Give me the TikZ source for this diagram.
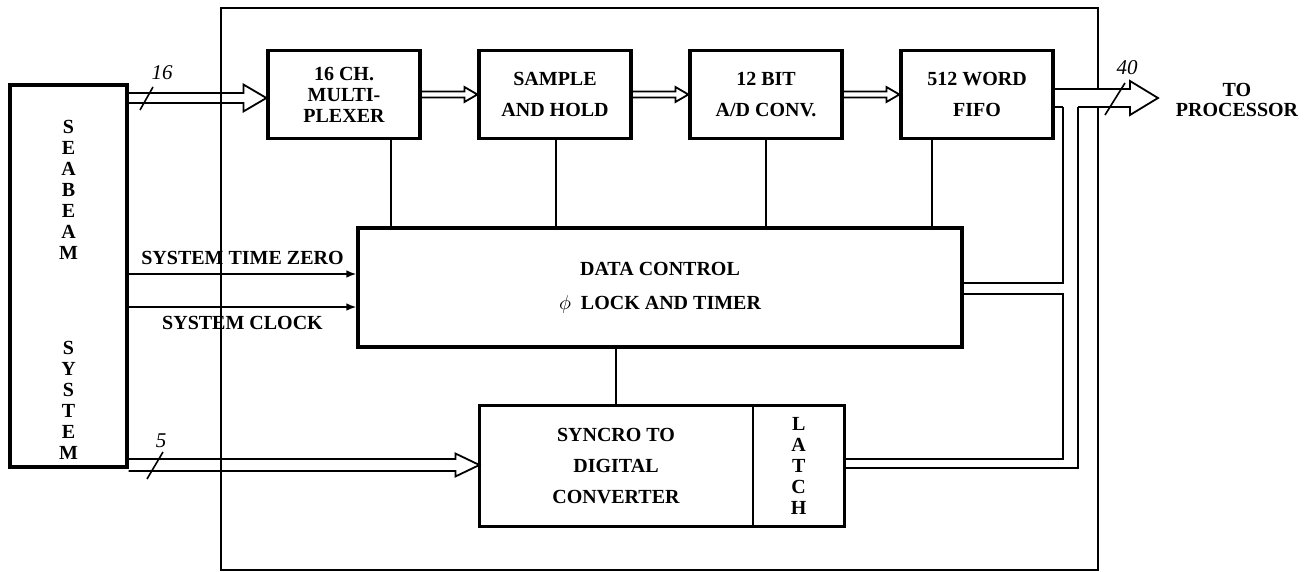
\documentclass[tikz,border=0pt]{standalone}
\usepackage{fontspec}
\setmainfont{Liberation Serif}
\usetikzlibrary{arrows.meta,calc,positioning}
% Busleitung als hohler Doppelpfeil: von, nach, halbe Breite, halbe Spitze, Spitzenlaenge
\newcommand{\hbus}[5]{%
  \draw[wire] ($(#1)+(0,-#3)$) -- ($(#2)+(-#5,-#3)$) -- ($(#2)+(-#5,-#4)$) -- (#2)
    -- ($(#2)+(-#5,#4)$) -- ($(#2)+(-#5,#3)$) -- ($(#1)+(0,#3)$);}
\tikzset{
  every picture/.style={line width=0.9pt, line join=miter,
    >={Latex[length=5pt,width=3.8pt]}},
  every node/.style={font=\fontsize{10}{10.5}\selectfont\bfseries},
  % Linientypen
  wire/.style={line width=0.9pt},
  frame/.style={line width=1.2pt},
  sig/.style={line width=0.9pt, ->},
  tick/.style={line width=0.8pt},
  % Bloecke
  blk/.style={draw, line width=1.6pt, minimum width=76pt, minimum height=44pt,
    align=center, inner sep=0pt},
  num/.style={font=\fontsize{10.5}{12}\selectfont\itshape},
}
\begin{document}
\begin{tikzpicture}[x=0.5pt, y=-0.5pt]
  \useasboundingbox (0,0) rectangle (1314,572);
  % Rahmen (rechts vom Ausgangsbus unterbrochen)
  \draw[frame] (1098,89) -- (1098,8) -- (221,8) -- (221,570) -- (1098,570) -- (1098,107);
  % obere Reihe
  \node[blk] (mux) at (344,94.5) {16 CH.\\MULTI-\\PLEXER};
  \node[blk, right=27.9pt of mux] (sh) {SAMPLE\\[5pt]AND HOLD};
  \node[blk, right=27.9pt of sh] (ad) {12 BIT\\[5pt]A/D CONV.};
  \node[blk, right=27.9pt of ad] (fifo) {512 WORD\\[5pt]FIFO};
  % Steuerung
  \node[blk, minimum width=302pt, minimum height=59.5pt] (dc) at (660,287.5)
    {DATA CONTROL\\[6.5pt]$\phi$\ \ LOCK AND TIMER};
  % Wandler mit Latch
  \node[blk, draw=none, minimum width=135pt, minimum height=59pt] (sdc) at (616,466)
    {SYNCRO TO\\[5pt]DIGITAL\\[5pt]CONVERTER};
  \node[blk, draw=none, minimum width=44.5pt, minimum height=59pt, right=0pt of sdc] (latch)
    {L\\A\\T\\C\\H};
  \draw[line width=1.6pt] (sdc.south west) rectangle (latch.north east);
  \draw[wire] (latch.north west) -- (latch.south west);
  % Seabeam
  \node[blk, minimum width=58.5pt, minimum height=191pt] (sb) at (68.5,276) {};
  \node[align=center] (sbtxt) at (68.5,290)
    {S\\E\\A\\B\\E\\A\\M\\[37pt]S\\Y\\S\\T\\E\\M};
  % Busse
  \coordinate (b16a) at (sb.east |- 0,98);
  \coordinate (b16b) at (mux.west |- 0,98);
  \hbus{b16a}{b16b}{5}{13.5}{23}
  \hbus{mux.east}{sh.west}{3}{7.5}{13}
  \hbus{sh.east}{ad.west}{3}{7.5}{13}
  \hbus{ad.east}{fifo.west}{3}{7.5}{13}
  \coordinate (b5a) at (sb.east |- 0,465);
  \coordinate (b5b) at (sdc.west |- 0,465);
  \hbus{b5a}{b5b}{6}{11.5}{24}
  % Ausgangsbus
  \coordinate (jA) at (1063,107);
  \coordinate (jB) at (1078,107);
  \coordinate (tip) at (1158,98);
  \draw[wire] (fifo.east |- 0,89) -- (1130,89) -- (1130,81) -- (tip) -- (1130,115)
    -- (1130,107) -- (jB);
  \draw[wire] (fifo.east |- jA) -- (jA);
  \draw[wire] (dc.east |- 0,283) -| (jA);
  \draw[wire] (dc.east |- 0,294) -| (jA |- 0,459) -- (latch.east |- 0,459);
  \draw[wire] (latch.east |- 0,468) -| (jB);
  \node[align=center, font=\fontsize{10}{10}\selectfont\bfseries] (proc) at (1237,100)
    {TO\\PROCESSOR};
  % Steuerleitungen
  \foreach \b/\x in {mux/391, sh/556, ad/766, fifo/932}
    \draw[wire] (\b.south -| \x,0) -- (dc.north -| \x,0);
  \draw[wire] (sdc.north) -- (sdc.north |- dc.south);
  \coordinate (tz) at (0,274);
  \coordinate (ck) at (0,307);
  \draw[sig] (sb.east |- tz) -- (dc.west |- tz) node[pos=0.5, above=1pt] (tzl) {SYSTEM TIME ZERO};
  \draw[sig] (sb.east |- ck) -- (dc.west |- ck) node[pos=0.5, below=1pt] (ckl) {SYSTEM CLOCK};
  % Busbreiten
  \draw[tick] (140,110) -- (153,87);
  \node[num] (n16) at (162,73) {16};
  \draw[tick] (147,479) -- (163,452);
  \node[num] (n5) at (161,441) {5};
  \draw[tick] (1105,115) -- (1125,83);
  \node[num] (n40) at (1127,68) {40};
\end{tikzpicture}
\end{document}
